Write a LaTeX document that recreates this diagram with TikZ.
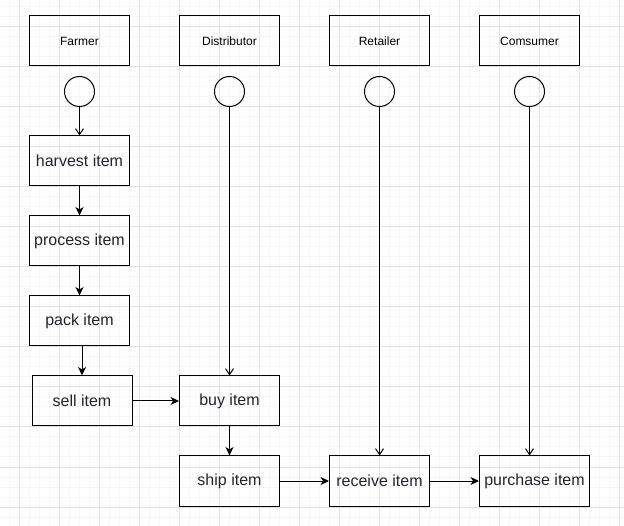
\documentclass[tikz,border=0pt]{standalone}
\usepackage{fontspec}
\setmainfont{Liberation Sans}
\usepackage{xcolor}
\usetikzlibrary{arrows.meta}
\definecolor{gridminor}{RGB}{246,246,246}
\definecolor{gridmajor}{RGB}{226,226,226}
\definecolor{itemtext}{RGB}{31,36,46}

\begin{document}
\begin{tikzpicture}[x=1pt, y=-1pt,
    header/.style={draw, line width=1pt, minimum width=100pt, minimum height=50pt, inner sep=0pt, font=\fontsize{12}{14}\selectfont},
    item/.style={draw, line width=1pt, minimum width=100pt, minimum height=50pt, inner sep=0pt, text=itemtext, font=\fontsize{16}{19}\selectfont},
    lifecircle/.style={circle, draw, line width=1pt, minimum size=30pt, inner sep=0pt},
    flow/.style={line width=1pt, -{Stealth[length=8.5pt, width=8pt, inset=2.5pt]}},
    life/.style={line width=1pt, -{Straight Barb[length=6pt, width=8pt]}}]

    \useasboundingbox (0,0) rectangle (624,526);

    %GRID
    \foreach \x in {-1,9,...,619} \draw[gridminor, line width=1pt] (\x,0) -- (\x,526);
    \foreach \y in {7,17,...,517} \draw[gridminor, line width=1pt] (0,\y) -- (624,\y);
    \foreach \x in {19,59,...,619} \draw[gridmajor, line width=1pt] (\x,0) -- (\x,526);
    \foreach \y in {27,67,...,507} \draw[gridmajor, line width=1pt] (0,\y) -- (624,\y);

    %HEADERS
    \node[header] (farmer) at (79.5,41) {Farmer};
    \node[header] (distributor) at (229.5,41) {Distributor};
    \node[header] (retailer) at (379.5,41) {Retailer};
    \node[header] (consumer) at (529.5,41) {Comsumer};

    %CIRCLES
    \node[lifecircle] (cfarmer) at (79.5,91.5) {};
    \node[lifecircle] (cdistributor) at (229.5,91.5) {};
    \node[lifecircle] (cretailer) at (379.5,91.5) {};
    \node[lifecircle] (cconsumer) at (529.5,91.5) {};

    %ITEMS
    \node[item] (harvest) at (79.5,161) {harvest item};
    \node[item] (process) at (79.5,241) {process item};
    \node[item] (pack) at (79.5,321) {pack item};
    \node[item] (sell) at (82,401) {sell item};
    \node[item] (buy) at (229.5,401) {buy item};
    \node[item] (ship) at (229.5,481) {ship item};
    \node[item] (receive) at (379.5,481) {receive item};
    \node[item, minimum width=110pt] (purchase) at (534.5,481) {purchase item};

    %LIFELINES
    \draw[life] (cfarmer) -- (harvest);
    \draw[life] (cdistributor) -- (buy);
    \draw[life] (cretailer) -- (receive);
    \draw[life] (cconsumer.south) -- (cconsumer.south |- purchase.north);

    %FLOW
    \draw[flow] (harvest) -- (process);
    \draw[flow] (process) -- (pack);
    \draw[flow] (pack.south -| sell.north) -- (sell.north);
    \draw[flow] (sell) -- (buy);
    \draw[flow] (buy) -- (ship);
    \draw[flow] (ship) -- (receive);
    \draw[flow] (receive) -- (purchase);
\end{tikzpicture}
\end{document}
